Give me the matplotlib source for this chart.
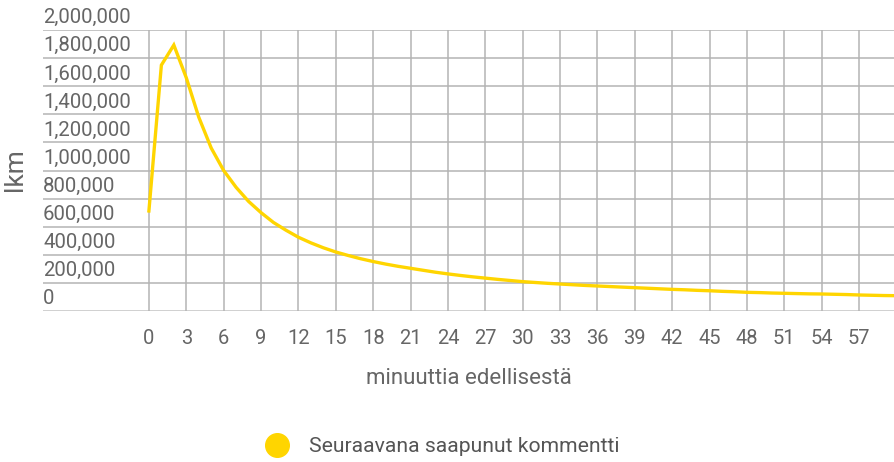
import matplotlib
matplotlib.use("Agg")
import matplotlib.pyplot as plt
from matplotlib.lines import Line2D
import matplotlib.transforms as mtransforms

plt.rcParams['font.family'] = ['Roboto', 'DejaVu Sans']

# minutes since previous comment -> count
minutes = list(range(0, 61))
counts = [
    712000, 1750000, 1893000, 1660000, 1380000, 1160000, 1000000, 880000,
    780000, 700000, 630000, 575000, 525000, 485000, 450000, 420000,
    395000, 372000, 352000, 334000, 318000, 304000, 290000, 276000,
    264000, 253000, 243000, 234000, 225000, 217000, 209000, 203000,
    197000, 192000, 187000, 182000, 178000, 174000, 170000, 166000,
    162000, 158000, 154000, 151000, 147000, 144000, 140000, 137000,
    133000, 131000, 128000, 126000, 124000, 122000, 121000, 119000,
    117000, 114000, 112000, 110000, 109000,
]
xticks = list(range(0, 58, 3))
yticks = list(range(0, 2000001, 200000))
series_name = "Seuraavana saapunut kommentti"
xlabel = "minuuttia edellisestä"
ylabel = "lkm"

line_color = "#ffd500"
grid_color = "#b4b4b4"
text_color = "#666666"

fig = plt.figure(figsize=(8.94, 4.62), dpi=100)
ax = fig.add_axes([43 / 894, 1 - 311 / 462, 1 - 43 / 894, 281 / 462])

ax.set_xlim(-8.5, 59.8)
ax.set_ylim(0, 2000000)

# grid
for v in yticks:
    if v == 0:
        ax.axhline(v, color="#cccccc", lw=2, zorder=1)
    else:
        ax.axhline(v, color=grid_color, lw=1.1, zorder=1)
for t in xticks:
    ax.axvline(t, color=grid_color, lw=1.1, zorder=1)

ax.plot(minutes, counts, color=line_color, lw=2.4, zorder=3, solid_joinstyle="miter")

for s in ax.spines.values():
    s.set_visible(False)

ax.set_yticks([])
ax.set_xticks(xticks)
ax.set_xticklabels([str(t) for t in xticks], color=text_color, fontsize=14.5)
ax.tick_params(axis="x", length=0, pad=13)

trans = mtransforms.blended_transform_factory(ax.transAxes, ax.transData)
for v in yticks:
    ax.annotate(f"{v:,}", xy=(0, v), xycoords=trans, xytext=(0, 2),
                textcoords="offset points", ha="left", va="bottom",
                color=text_color, fontsize=14.7, zorder=4)

ax.set_xlabel(xlabel, color=text_color, fontsize=16, labelpad=14)
fig.text(15 / 894, 1 - 170 / 462, ylabel, rotation=90, ha="center", va="center",
         color=text_color, fontsize=19)

handle = Line2D([], [], marker="o", linestyle="none", markersize=17,
                color=line_color)
fig.legend(handles=[handle], labels=[series_name], loc="center",
           bbox_to_anchor=(438 / 894, 1 - 447 / 462), frameon=False,
           fontsize=15.2, labelcolor="#555555", handletextpad=0.5)

fig.savefig("out.png", dpi=100)
